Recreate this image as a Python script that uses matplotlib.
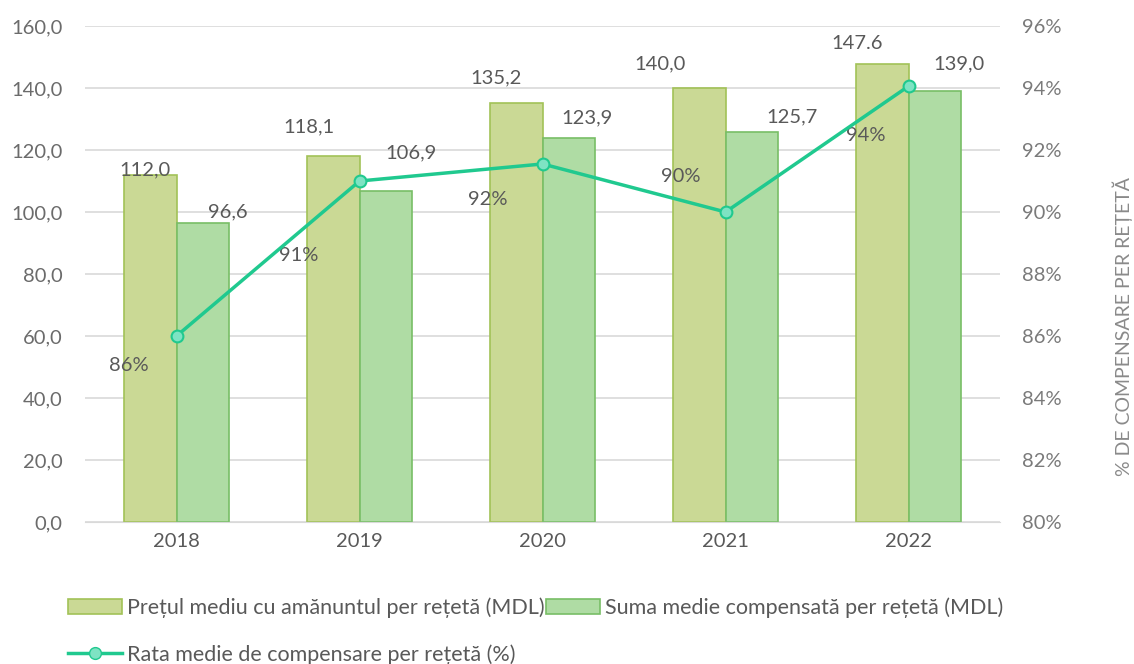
import matplotlib
matplotlib.use("Agg")
import matplotlib.pyplot as plt
import numpy as np
from matplotlib.lines import Line2D
from matplotlib.patches import Patch

plt.rcParams['font.family'] = ['Lato', 'DejaVu Sans']

years = ['2018', '2019', '2020', '2021', '2022']
pret_mediu = [112.0, 118.1, 135.2, 140.0, 147.6]
pret_labels = ['112,0', '118,1', '135,2', '140,0', '147.6']
suma_comp = [96.6, 106.9, 123.9, 125.7, 139.0]
suma_labels = ['96,6', '106,9', '123,9', '125,7', '139,0']
rata = [0.86, 0.91, 0.9155, 0.90, 0.9406]
rata_labels = ['86%', '91%', '92%', '90%', '94%']

left_ticks = [0, 20, 40, 60, 80, 100, 120, 140, 160]
right_ticks = [0.80, 0.82, 0.84, 0.86, 0.88, 0.90, 0.92, 0.94, 0.96]

leg1 = 'Prețul mediu cu amănuntul per rețetă (MDL)'
leg2 = 'Suma medie compensată per rețetă (MDL)'
leg3 = 'Rata medie de compensare per rețetă (%)'
right_label = '% DE COMPENSARE PER REȚETĂ'

txt = '#595959'
c1_face, c1_edge = '#cad995', '#a2c257'
c2_face, c2_edge = '#afdca4', '#78be66'
line_c = '#20c98f'
mk_face = '#7ee3c3'
fs = 14.5

fig = plt.figure(figsize=(11.34, 6.64), dpi=100)
ax = fig.add_axes([0.075, 0.2139, 0.8069, 0.7469])
ax2 = ax.twinx()

x = np.arange(len(years))
w = 0.285
ax.bar(x - w / 2, pret_mediu, w, color=c1_face, edgecolor=c1_edge, linewidth=1.2, zorder=2)
ax.bar(x + w / 2, suma_comp, w, color=c2_face, edgecolor=c2_edge, linewidth=1.2, zorder=2)

ax.set_ylim(0, 160)
ax.set_xlim(-0.5, len(years) - 0.5)
ax.set_yticks(left_ticks)
ax.set_yticklabels([f"{v:.1f}".replace('.', ',') for v in left_ticks])
ax.set_xticks(x)
ax.set_xticklabels(years)
ax.yaxis.grid(True, color='#d9d9d9', linewidth=1.2, zorder=0)
ax.set_axisbelow(True)
for s in ['top', 'left', 'right']:
    ax.spines[s].set_visible(False)
ax.spines['bottom'].set_color('#d9d9d9')
ax.tick_params(axis='both', length=0, colors=txt, labelsize=fs)
ax.tick_params(axis='y', pad=16, colors='#6b6b6b')
ax.tick_params(axis='x', pad=8)

pret_off = [(-5, 5), (-25, 29), (-20, 25), (-39, 24), (-25, 21)]
suma_off = [(25, 11), (25, 38), (18, 20), (40, 15), (24, 27)]
for i in range(len(years)):
    ax.annotate(pret_labels[i], (x[i] - w / 2, pret_mediu[i]), xytext=pret_off[i],
                textcoords='offset pixels', ha='center', va='center', color=txt, fontsize=fs)
    ax.annotate(suma_labels[i], (x[i] + w / 2, suma_comp[i]), xytext=suma_off[i],
                textcoords='offset pixels', ha='center', va='center', color=txt, fontsize=fs)

ax2.plot(x, rata, color=line_c, linewidth=2.5, marker='o', markersize=8.5,
         markerfacecolor=mk_face, markeredgecolor=line_c, markeredgewidth=1.5, zorder=5)
ax2.set_ylim(0.80, 0.96)
ax2.set_yticks(right_ticks)
ax2.set_yticklabels([f"{int(round(v * 100))}%" for v in right_ticks])
for s in ['top', 'left', 'right', 'bottom']:
    ax2.spines[s].set_visible(False)
ax2.tick_params(axis='y', length=0, colors='#7a7a7a', labelsize=fs, pad=16)
ax2.set_ylabel(right_label, color='#8a8a8a', fontsize=14)
ax2.yaxis.set_label_coords(1.1345, 0.395)
ax2.yaxis.label.set_verticalalignment('center')
ax2.yaxis.label.set_horizontalalignment('center')

rata_off = [(-48, -30), (-61, -74), (-55, -36), (-45, 36), (-43, -49)]
for i in range(len(years)):
    ax2.annotate(rata_labels[i], (x[i], rata[i]), xytext=rata_off[i], textcoords='offset pixels',
                 ha='center', va='center', color=txt, fontsize=fs)

handles = [Patch(facecolor=c1_face, edgecolor=c1_edge, linewidth=1.2),
           Line2D([0], [0], color=line_c, linewidth=2.5, marker='o', markersize=8.5,
                  markerfacecolor=mk_face, markeredgecolor=line_c),
           Patch(facecolor=c2_face, edgecolor=c2_edge, linewidth=1.2)]
labels = [leg1, leg3, leg2]
leg = fig.legend(handles, labels, ncol=2, loc='upper left', bbox_to_anchor=(0.06, 0.1),
                 frameon=False, fontsize=15.5, handlelength=2.5, handletextpad=0.22,
                 columnspacing=0.1, labelspacing=1.2, borderaxespad=0, borderpad=0)
for t in leg.get_texts():
    t.set_color(txt)

fig.savefig('out.png', dpi=100)
